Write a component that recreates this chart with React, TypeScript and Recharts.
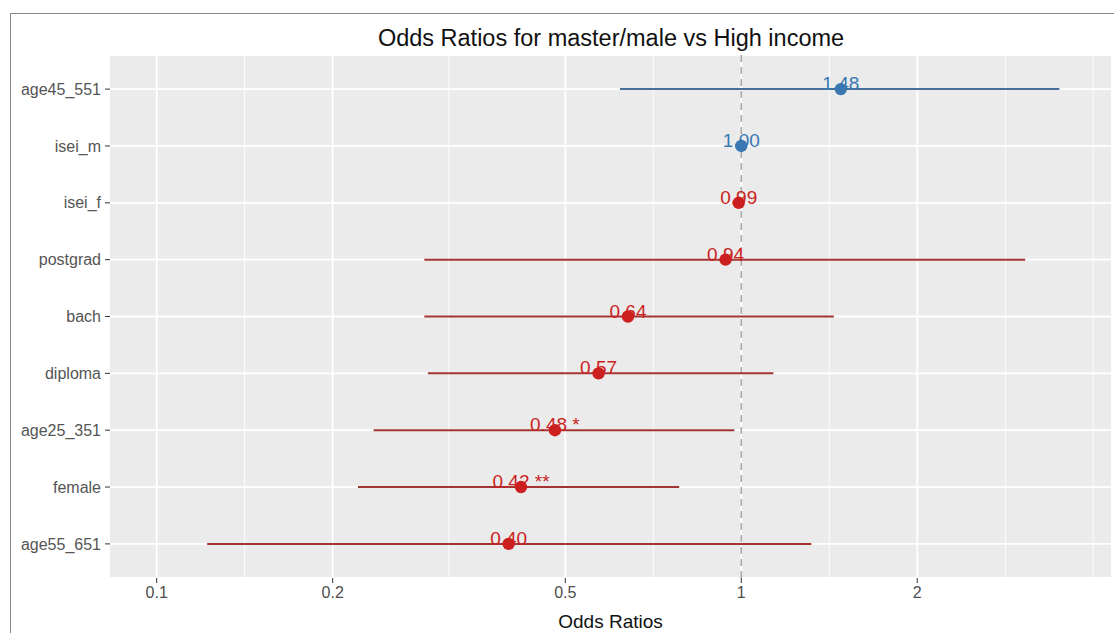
import { ScatterChart, Scatter, XAxis, YAxis, CartesianGrid, ErrorBar, ReferenceLine, Label } from 'recharts';

const FONT = '"Liberation Sans", Arial, sans-serif';

// rows listed top to bottom as in the plot
const categories = ['age45_551', 'isei_m', 'isei_f', 'postgrad', 'bach', 'diploma', 'age25_351', 'female', 'age55_651'];
const oddsRatios = [1.48, 1.0, 0.99, 0.94, 0.64, 0.57, 0.48, 0.42, 0.4];
const ciLow = [0.62, 0.993, 0.983, 0.287, 0.287, 0.291, 0.235, 0.221, 0.122];
const ciHigh = [3.5, 1.007, 0.997, 3.06, 1.44, 1.135, 0.973, 0.783, 1.318];
const stars = ['', '', '', '', '', '', '*', '**', ''];

const xTicks = [0.1, 0.2, 0.5, 1, 2];
const xMinor = [0.1414, 0.3162, 0.7071, 1.4142, 2.83, 4.0];

const BLUE = '#3a78b2';
const BLUE_LINE = '#456f96';
const RED = '#cc1f1f';
const RED_LINE = '#a33434';

const n = categories.length;
const rows = categories.map((name, i) => ({
  name,
  y: n - 1 - i,
  or: oddsRatios[i],
  err: [oddsRatios[i] - ciLow[i], ciHigh[i] - oddsRatios[i]],
  label: oddsRatios[i].toFixed(2) + (stars[i] ? ' ' + stars[i] : ''),
}));
const blueRows = rows.filter((r) => r.or >= 1);
const redRows = rows.filter((r) => r.or < 1);

const pointShape = (fill: string, textFill: string) => (props: any) => {
  const { cx, cy, payload } = props;
  return (
    <g>
      <text x={cx} y={cy + 1} textAnchor="middle" fontSize={19} fontFamily={FONT} fill={textFill}>
        {payload.label}
      </text>
      <circle cx={cx} cy={cy} r={6.2} fill={fill} />
    </g>
  );
};

export default function App() {
  return (
    <div style={{ position: 'absolute', left: 0, top: 0, width: 1114, height: 633, background: '#fff', overflow: 'hidden' }}>
      <div style={{ position: 'absolute', left: 10, top: 13, width: 1110, height: 640, border: '1px solid #8a8a8a' }} />
      <div
        style={{
          position: 'absolute', left: 111, width: 1000, top: 26, textAlign: 'center',
          fontFamily: FONT, fontSize: 23.5, lineHeight: '24px', color: '#111',
        }}
      >
        Odds Ratios for master/male vs High income
      </div>
      <ScatterChart
        width={1114}
        height={633}
        margin={{ top: 55, right: 3, bottom: 0, left: 10 }}
        style={{ position: 'absolute', left: 0, top: 0, fontFamily: FONT }}
      >
        <CartesianGrid fill="#ebebeb" stroke="#ffffff" strokeWidth={1.8} verticalValues={xTicks} />
        <CartesianGrid horizontal={false} stroke="#ffffff" strokeWidth={0.9} verticalValues={xMinor} />
        <XAxis
          type="number"
          dataKey="or"
          scale="log"
          domain={[0.0832, 4.29]}
          allowDataOverflow
          ticks={xTicks}
          interval={0}
          tickFormatter={(v) => String(v)}
          axisLine={false}
          tickSize={5}
          tickMargin={4}
          tickLine={{ stroke: '#333' }}
          tick={{ fill: '#4d4d4d', fontSize: 16, fontFamily: FONT }}
          height={55}
        >
          <Label value="Odds Ratios" position="insideBottom" offset={5} style={{ fontSize: 19, fill: '#111', fontFamily: FONT }} />
        </XAxis>
        <YAxis
          type="number"
          dataKey="y"
          domain={[-0.6, n - 1 + 0.6]}
          ticks={rows.map((r) => r.y)}
          interval={0}
          tickFormatter={(v) => categories[n - 1 - v]}
          axisLine={false}
          tickSize={5}
          tickMargin={4}
          tickLine={{ stroke: '#333' }}
          tick={{ fill: '#555', fontSize: 16, fontFamily: FONT }}
          width={100}
        />
        <ReferenceLine x={1} stroke="#a8a8a8" strokeWidth={1.6} strokeDasharray="7 5" />
        <Scatter data={blueRows} isAnimationActive={false} shape={pointShape(BLUE, BLUE)}>
          <ErrorBar dataKey="err" direction="x" width={0} stroke={BLUE_LINE} strokeWidth={2} />
        </Scatter>
        <Scatter data={redRows} isAnimationActive={false} shape={pointShape(RED, RED)}>
          <ErrorBar dataKey="err" direction="x" width={0} stroke={RED_LINE} strokeWidth={2} />
        </Scatter>
      </ScatterChart>
    </div>
  );
}
